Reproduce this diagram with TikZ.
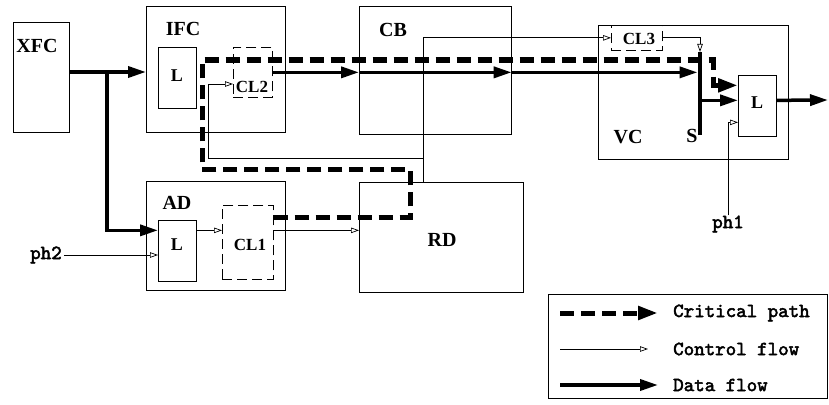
\documentclass[tikz,border=0pt]{standalone}
\usepackage{fontspec}
\setmainfont{Liberation Serif}
\newfontfamily\courbf{lmmono10-regular.otf}[FakeBold=2.5]
\usetikzlibrary{arrows.meta,positioning,calc}
\tikzset{
  blk/.style={draw, line width=0.7pt, anchor=north west, inner sep=0pt},
  clbox/.style={blk, dash pattern=on 10pt off 5pt},
  unitname/.style={font=\fontsize{20}{22}\selectfont\bfseries, inner sep=0pt},
  latchname/.style={font=\fontsize{18}{20}\selectfont\bfseries, inner sep=0pt},
  clname/.style={font=\fontsize{17}{19}\selectfont\bfseries, inner sep=0pt},
  mono/.style={font=\fontsize{20}{22}\selectfont\courbf, inner sep=0pt},
  dataflow/.style={line width=3.5pt, -{Triangle[length=18pt,width=11pt]}},
  critical/.style={line width=5pt, dash pattern=on 14pt off 7pt, -{Triangle[length=20pt,width=13pt]}},
  control/.style={line width=0.7pt, -{Triangle[open,length=8pt,width=5.5pt]}}
}
\begin{document}
\begin{tikzpicture}[x=1pt,y=-1pt]
  \useasboundingbox (0,0) rectangle (829,404);
  % units
  \node[blk, minimum width=56pt, minimum height=110pt] (XFC) at (13,22) {};
  \node[blk, minimum width=139pt, minimum height=126pt] (IFC) at (146,6) {};
  \node[blk, minimum width=38pt, minimum height=61pt] (LI) at (158,47) {};
  \node[clbox, minimum width=39pt, minimum height=50pt] (CL2) at (233,47) {};
  \node[blk, minimum width=152pt, minimum height=128pt] (CB) at (359,6) {};
  \node[blk, minimum width=190pt, minimum height=134pt] (VC) at (598,25) {};
  \node[clbox, minimum width=51pt, minimum height=25pt] (CL3) at (611,25) {};
  \node[blk, minimum width=38pt, minimum height=61pt] (LV) at (738,75) {};
  \node[fill, inner sep=0pt, minimum width=4.5pt, minimum height=83pt, anchor=north] (S) at (700,52) {};
  \node[blk, minimum width=139pt, minimum height=109pt] (AD) at (146,181) {};
  \node[blk, minimum width=38pt, minimum height=61pt] (LA) at (158,220) {};
  \node[clbox, minimum width=51pt, minimum height=74pt] (CL1) at (222,205) {};
  \node[blk, minimum width=164pt, minimum height=110pt] (RD) at (359,182) {};
  % labels
  \node[unitname] (xfc-t) at (37,46) {XFC};
  \node[unitname] (ifc-t) at (183,29) {IFC};
  \node[unitname] (cb-t) at (393,30) {CB};
  \node[unitname] (vc-t) at (628,137) {VC};
  \node[unitname] (ad-t) at (177,203) {AD};
  \node[unitname] (rd-t) at (442,240) {RD};
  \node[unitname] (s-t) at (692,136) {S};
  \node[latchname] (li-t) at (177,76) {L};
  \node[latchname] (la-t) at (177,245) {L};
  \node[latchname] (lv-t) at (757,103) {L};
  \node[clname] (cl2-t) at (252,87) {CL2};
  \node[clname] (cl3-t) at (639,39) {CL3};
  \node[clname] (cl1-t) at (250,245) {CL1};
  \node[mono] (ph2) at (46,255) {ph2};
  \node[mono] (ph1) at (728,224) {ph1};
  % helper points
  \coordinate (fork) at (107,72);
  \coordinate (lvin) at ([yshift=5.5pt]LV.west);
  \coordinate (lvcp) at ([yshift=20.5pt]LV.west);
  \coordinate (la) at ([yshift=20.5pt]LA.east);
  \coordinate (cj) at (423,158);
  \coordinate (ck) at (208,84);
  \coordinate (cp1) at (410,217);
  \coordinate (cp2) at (202,169);
  \coordinate (cp3) at (713,60);
  \coordinate (out) at (828,100);
  % data flow
  \draw[dataflow] (XFC.east |- fork) -- (IFC.west |- fork);
  \draw[dataflow] (fork) |- ([yshift=20.5pt]LA.west);
  \draw[dataflow] (CL2.east) -- (CB.west |- CL2.east);
  \draw[dataflow] (CB.west |- CL2.east) -- (CB.east |- CL2.east);
  \draw[dataflow] (CB.east |- CL2.east) -- (S.west |- CL2.east);
  \draw[dataflow] (S.east |- lvin) -- (lvin);
  \draw[dataflow] (lvin -| LV.east) -- (out);
  % control flow
  \draw[control] (cj |- RD.north) |- (CL3.west);
  \draw[control] (cj) -| (ck) -- (CL2.west |- ck);
  \draw[control] (CL3.east) -| (S.north);
  \draw[control] (ph1.north) |- ([yshift=-16.5pt]LV.west);
  \draw[control] ([xshift=2pt]ph2.east) -- (LA.west |- ph2.east);
  \draw[control] (la) -- (CL1.west |- la);
  \draw[control] (CL1.east |- la) -- (RD.west |- la);
  % critical path
  \draw[critical] (CL1.east |- cp1) -- (cp1) |- (cp2) |- (cp3) |- (lvcp);
  % legend
  \node[blk, minimum width=279pt, minimum height=104pt] (key) at (548,294) {};
  \node[mono, anchor=west] (k1) at (673,313) {Critical path};
  \node[mono, anchor=west] (k2) at (673,349) {Control flow};
  \node[mono, anchor=west] (k3) at (673,385) {Data flow};
  \draw[critical] ([xshift=-113pt]k1.west) -- ([xshift=-15pt]k1.west);
  \draw[control] ([xshift=-113pt]k2.west) -- ([xshift=-25pt]k2.west);
  \draw[dataflow] ([xshift=-113pt]k3.west) -- ([xshift=-15pt]k3.west);
\end{tikzpicture}
\end{document}
